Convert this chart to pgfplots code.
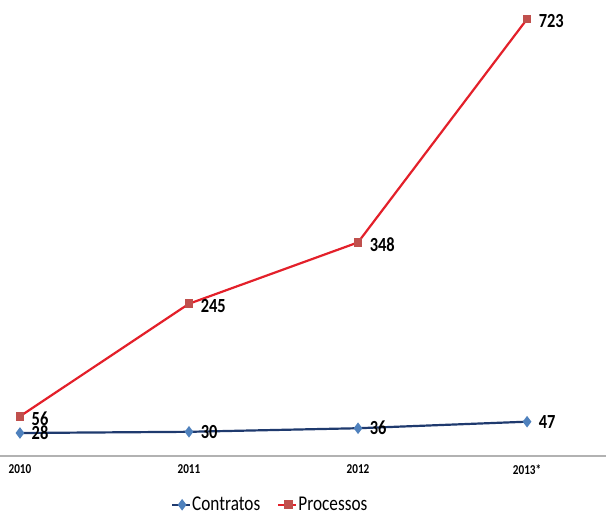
\documentclass[border=0pt]{standalone}
\usepackage{fontspec}
\setmainfont{Carlito}[FakeStretch=0.82]
\usepackage{pgfplots}
\pgfplotsset{compat=1.18}
\definecolor{navy}{HTML}{1F3A6E}
\definecolor{lblue}{HTML}{4F81BD}
\definecolor{rline}{HTML}{E3202A}
\definecolor{rmark}{HTML}{C0504D}
\begin{document}
\begin{tikzpicture}[x=1pt,y=1pt]
\useasboundingbox (0,-28.5) rectangle (303,228);
\begin{axis}[
  at={(0,0)}, anchor=south west,
  scale only axis, width=303pt, height=228pt,
  xmin=-0.118, xmax=3.467, ymin=-10.6, ymax=755,
  axis y line=none,
  axis x line*=bottom,
  x axis line style={draw=gray!60, line width=0.6pt, -},
  xtick={0,1,2,3},
  xticklabels={2010,2011,2012,2013*},
  major tick length=0pt,
  xticklabel style={font=\bfseries\fontsize{6.8}{7}\selectfont, yshift=-1pt},
  legend style={draw=none, at={(0.445,-0.107)}, anchor=center, legend columns=2,
    font=\fontsize{10.5}{10}\selectfont, column sep=0pt, inner sep=1pt,
    nodes={inner xsep=0.5pt},
    /tikz/every even column/.append style={column sep=8pt}},
  legend cell align=left,
  legend image code/.code={\draw[#1, mark=none, line width=1.1pt] (0pt,0pt) -- (9pt,0pt);
     \draw[#1, only marks] plot coordinates {(5pt,0pt)};},
  /pgf/number format/assume math mode=true,
  nodes near coords,
  every node near coord/.append style={anchor=west, xshift=2pt, font=\bfseries\fontsize{10}{11}\selectfont, text=black},
  clip=false,
]
\addplot[navy, line width=1.1pt, mark=diamond*, mark size=2pt, mark options={fill=lblue, draw=lblue}]
  coordinates {(0,28) (1,30) (2,36) (3,47)};
\addlegendentry{Contratos}
\addplot[rline, line width=1.1pt, mark=square*, mark size=1.6pt, mark options={fill=rmark, draw=rmark},
  every node near coord/.append style={yshift=-1pt}]
  coordinates {(0,56) (1,245) (2,348) (3,723)};
\addlegendentry{Processos}
\end{axis}
\end{tikzpicture}
\end{document}
